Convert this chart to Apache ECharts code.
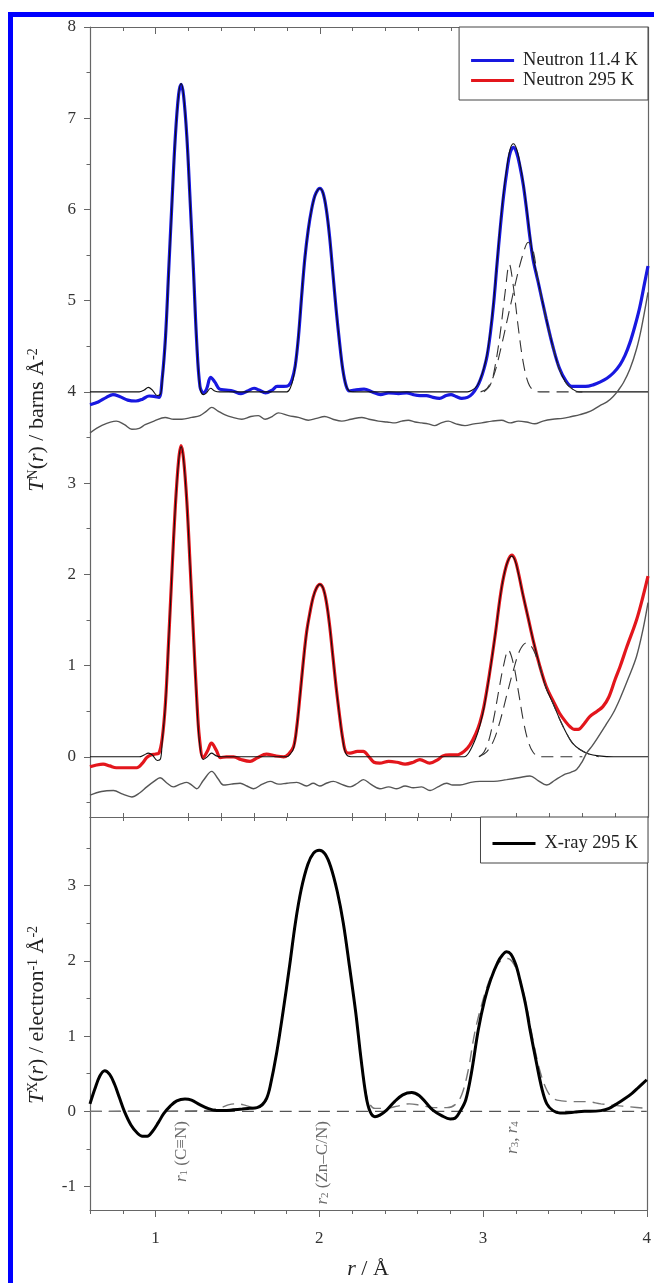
<!DOCTYPE html>
<html>
<head>
<meta charset="utf-8">
<script src="https://cdn.jsdelivr.net/npm/echarts@6/dist/echarts.min.js"></script>
<style>
  html, body { margin: 0; padding: 0; background: #fff; }
  #chart { width: 654px; height: 1283px; }
</style>
</head>
<body>
<div id="chart"></div>
<script>
// r / Å pairs
const neutronLow = [[0.60,3.86],[0.65,3.89],[0.70,3.94],[0.74,3.97],[0.78,3.95],[0.83,3.91],[0.88,3.90],[0.92,3.92],[0.96,3.955],[0.99,3.95],[1.02,3.94],[1.04,4.15],[1.06,4.60],[1.08,5.35],[1.10,6.10],[1.12,6.80],[1.14,7.26],[1.155,7.37],[1.17,7.25],[1.19,6.80],[1.21,6.10],[1.23,5.35],[1.25,4.55],[1.27,4.06],[1.29,3.99],[1.31,4.03],[1.335,4.16],[1.36,4.11],[1.39,4.03],[1.43,4.02],[1.47,4.01],[1.52,3.98],[1.56,4.01],[1.60,4.04],[1.63,4.02],[1.67,3.99],[1.71,4.02],[1.74,4.06],[1.78,4.06],[1.81,4.07],[1.83,4.13],[1.85,4.28],[1.87,4.60],[1.89,5.06],[1.91,5.48],[1.93,5.78],[1.95,6.00],[1.97,6.15],[1.99,6.22],[2.00,6.23],[2.02,6.18],[2.04,6.00],[2.06,5.70],[2.08,5.30],[2.10,4.90],[2.12,4.55],[2.14,4.25],[2.16,4.07],[2.18,4.01],[2.21,4.02],[2.27,4.03],[2.32,4.00],[2.37,3.97],[2.42,3.99],[2.48,3.98],[2.53,3.99],[2.57,3.97],[2.61,3.96],[2.65,3.96],[2.69,3.94],[2.73,3.93],[2.77,3.96],[2.80,3.97],[2.83,3.95],[2.865,3.93],[2.90,3.94],[2.93,3.98],[2.96,4.06],[2.98,4.14],[3.00,4.25],[3.02,4.40],[3.04,4.65],[3.06,4.98],[3.08,5.40],[3.10,5.80],[3.12,6.15],[3.14,6.42],[3.16,6.62],[3.18,6.68],[3.20,6.62],[3.22,6.47],[3.24,6.27],[3.26,6.00],[3.28,5.70],[3.30,5.45],[3.33,5.21],[3.38,4.80],[3.42,4.50],[3.46,4.26],[3.50,4.12],[3.535,4.06],[3.58,4.06],[3.62,4.06],[3.67,4.08],[3.71,4.11],[3.75,4.15],[3.79,4.21],[3.83,4.30],[3.86,4.40],[3.89,4.54],[3.92,4.72],[3.95,4.93],[3.98,5.20],[4.00,5.38]];
const fitLow = [[0.60,4.00],[0.90,4.00],[0.93,4.02],[0.955,4.05],[0.98,4.02],[1.01,3.96],[1.03,3.98],[1.04,4.12],[1.06,4.58],[1.08,5.33],[1.10,6.08],[1.12,6.79],[1.14,7.26],[1.155,7.38],[1.17,7.26],[1.19,6.79],[1.21,6.08],[1.23,5.33],[1.25,4.55],[1.27,4.05],[1.29,3.97],[1.31,3.99],[1.335,4.04],[1.36,4.01],[1.39,4.00],[1.80,4.00],[1.82,4.04],[1.84,4.16],[1.86,4.43],[1.88,4.83],[1.90,5.29],[1.92,5.64],[1.94,5.90],[1.96,6.08],[1.98,6.19],[2.00,6.23],[2.02,6.18],[2.04,6.00],[2.06,5.70],[2.08,5.30],[2.10,4.90],[2.12,4.55],[2.14,4.25],[2.16,4.07],[2.18,4.01],[2.20,4.00],[2.90,4.00],[2.93,4.02],[2.96,4.07],[2.98,4.15],[3.00,4.26],[3.02,4.42],[3.04,4.67],[3.06,5.00],[3.08,5.42],[3.10,5.83],[3.12,6.18],[3.14,6.46],[3.16,6.66],[3.18,6.72],[3.20,6.66],[3.22,6.50],[3.24,6.29],[3.26,6.02],[3.28,5.72],[3.30,5.47],[3.33,5.22],[3.38,4.80],[3.42,4.50],[3.46,4.25],[3.50,4.10],[3.54,4.03],[3.58,4.00],[4.00,4.00]];
const narrowLow = [[3.00,4.00],[3.04,4.08],[3.07,4.30],[3.10,4.65],[3.13,5.10],[3.155,5.40],[3.18,5.15],[3.21,4.70],[3.24,4.32],[3.27,4.10],[3.30,4.02],[3.34,4.00],[3.60,4.00]];
const wideLow = [[2.98,4.00],[3.02,4.04],[3.06,4.18],[3.10,4.45],[3.15,4.85],[3.20,5.25],[3.24,5.52],[3.27,5.64],[3.30,5.55],[3.33,5.22],[3.38,4.80],[3.42,4.50],[3.46,4.25],[3.50,4.10],[3.54,4.03],[3.58,4.00]];
const diffLow = [[0.60,3.55],[0.67,3.63],[0.76,3.68],[0.81,3.64],[0.855,3.59],[0.90,3.60],[0.936,3.64],[0.99,3.68],[1.058,3.72],[1.11,3.70],[1.16,3.70],[1.22,3.72],[1.27,3.74],[1.31,3.79],[1.342,3.83],[1.38,3.79],[1.42,3.75],[1.47,3.72],[1.525,3.70],[1.58,3.73],[1.626,3.74],[1.667,3.70],[1.71,3.73],[1.748,3.77],[1.81,3.74],[1.87,3.72],[1.93,3.69],[1.98,3.71],[2.03,3.73],[2.08,3.70],[2.134,3.68],[2.19,3.70],[2.256,3.72],[2.30,3.70],[2.357,3.68],[2.41,3.67],[2.459,3.66],[2.50,3.68],[2.54,3.69],[2.58,3.67],[2.62,3.66],[2.66,3.65],[2.70,3.63],[2.74,3.66],[2.783,3.68],[2.83,3.65],[2.885,3.63],[2.94,3.65],[2.987,3.66],[3.05,3.68],[3.108,3.69],[3.16,3.66],[3.21,3.68],[3.26,3.67],[3.31,3.65],[3.36,3.68],[3.42,3.70],[3.48,3.71],[3.535,3.73],[3.585,3.75],[3.65,3.79],[3.707,3.85],[3.75,3.89],[3.788,3.95],[3.82,4.02],[3.85,4.10],[3.89,4.25],[3.93,4.47],[3.96,4.70],[4.00,5.09]];

const neutronRoom = [[0.60,-0.11],[0.64,-0.09],[0.68,-0.08],[0.72,-0.10],[0.76,-0.12],[0.82,-0.12],[0.885,-0.12],[0.92,-0.07],[0.945,-0.01],[0.97,0.02],[1.00,0.03],[1.02,0.04],[1.04,0.20],[1.06,0.60],[1.08,1.30],[1.10,2.05],[1.12,2.75],[1.14,3.25],[1.155,3.41],[1.17,3.27],[1.19,2.80],[1.21,2.10],[1.23,1.35],[1.25,0.65],[1.267,0.20],[1.29,-0.01],[1.315,0.06],[1.34,0.15],[1.37,0.07],[1.395,-0.01],[1.43,0.00],[1.475,0.00],[1.52,-0.03],[1.575,-0.05],[1.62,-0.01],[1.675,0.03],[1.73,0.01],[1.78,0.00],[1.81,0.03],[1.84,0.11],[1.86,0.33],[1.88,0.68],[1.90,1.05],[1.92,1.37],[1.94,1.58],[1.96,1.75],[1.98,1.85],[2.00,1.89],[2.02,1.85],[2.04,1.70],[2.06,1.44],[2.08,1.10],[2.10,0.76],[2.12,0.46],[2.14,0.20],[2.16,0.05],[2.185,0.04],[2.23,0.06],[2.265,0.06],[2.30,0.00],[2.33,-0.06],[2.365,-0.07],[2.42,-0.05],[2.47,-0.06],[2.52,-0.08],[2.57,-0.06],[2.61,-0.03],[2.67,-0.07],[2.72,-0.03],[2.75,0.01],[2.79,0.02],[2.835,0.02],[2.88,0.06],[2.915,0.13],[2.95,0.25],[2.975,0.37],[3.00,0.55],[3.035,0.92],[3.07,1.35],[3.10,1.76],[3.12,1.97],[3.145,2.14],[3.17,2.21],[3.19,2.16],[3.21,2.02],[3.24,1.76],[3.27,1.52],[3.30,1.28],[3.34,1.00],[3.38,0.77],[3.42,0.62],[3.46,0.48],[3.50,0.38],[3.525,0.33],[3.55,0.30],[3.575,0.30],[3.61,0.36],[3.645,0.44],[3.69,0.50],[3.725,0.55],[3.76,0.65],[3.80,0.85],[3.83,0.99],[3.87,1.20],[3.93,1.50],[3.97,1.76],[4.00,1.98]];
const fitRoom = [[0.60,0.00],[0.90,0.00],[0.93,0.02],[0.955,0.04],[0.98,0.02],[1.01,-0.04],[1.03,-0.02],[1.04,0.17],[1.06,0.58],[1.08,1.29],[1.10,2.04],[1.12,2.74],[1.14,3.24],[1.155,3.40],[1.17,3.26],[1.19,2.79],[1.21,2.09],[1.23,1.34],[1.25,0.62],[1.267,0.16],[1.29,-0.03],[1.315,0.00],[1.34,0.04],[1.37,0.01],[1.40,0.00],[1.80,0.00],[1.82,0.03],[1.84,0.09],[1.86,0.32],[1.88,0.67],[1.90,1.04],[1.92,1.36],[1.94,1.58],[1.96,1.75],[1.98,1.85],[2.00,1.89],[2.02,1.85],[2.04,1.70],[2.06,1.44],[2.08,1.10],[2.10,0.76],[2.12,0.46],[2.14,0.19],[2.16,0.03],[2.19,0.00],[2.88,0.00],[2.91,0.05],[2.95,0.20],[2.975,0.34],[3.00,0.53],[3.035,0.91],[3.07,1.35],[3.10,1.76],[3.12,1.97],[3.145,2.14],[3.17,2.20],[3.19,2.15],[3.21,2.01],[3.24,1.76],[3.27,1.52],[3.30,1.28],[3.34,1.00],[3.38,0.75],[3.42,0.59],[3.46,0.42],[3.50,0.27],[3.54,0.15],[3.585,0.08],[3.64,0.03],[3.70,0.01],[3.79,0.00],[4.00,0.00]];
const narrowRoom = [[2.97,0.00],[3.00,0.05],[3.03,0.18],[3.06,0.42],[3.09,0.72],[3.12,1.00],[3.149,1.17],[3.18,1.02],[3.21,0.72],[3.24,0.40],[3.27,0.17],[3.30,0.05],[3.34,0.00],[3.60,0.00]];
const wideRoom = [[2.97,0.00],[3.02,0.06],[3.06,0.18],[3.10,0.40],[3.14,0.68],[3.18,0.95],[3.22,1.17],[3.26,1.25],[3.30,1.18],[3.34,0.98],[3.38,0.75],[3.42,0.59],[3.46,0.42],[3.50,0.27],[3.54,0.15],[3.585,0.08],[3.64,0.03],[3.70,0.00]];
const diffRoom = [[0.60,-0.42],[0.67,-0.38],[0.743,-0.37],[0.80,-0.41],[0.855,-0.44],[0.90,-0.40],[0.946,-0.33],[0.99,-0.27],[1.027,-0.23],[1.07,-0.29],[1.108,-0.33],[1.15,-0.30],[1.19,-0.28],[1.22,-0.31],[1.25,-0.35],[1.29,-0.26],[1.342,-0.16],[1.38,-0.24],[1.413,-0.31],[1.46,-0.30],[1.515,-0.29],[1.556,-0.32],[1.596,-0.35],[1.65,-0.30],[1.698,-0.27],[1.75,-0.30],[1.80,-0.29],[1.86,-0.28],[1.92,-0.32],[1.96,-0.29],[2.00,-0.32],[2.04,-0.29],[2.083,-0.27],[2.13,-0.30],[2.185,-0.33],[2.23,-0.29],[2.266,-0.25],[2.31,-0.30],[2.367,-0.35],[2.42,-0.33],[2.469,-0.35],[2.52,-0.32],[2.57,-0.34],[2.62,-0.33],[2.672,-0.37],[2.72,-0.33],[2.773,-0.29],[2.81,-0.31],[2.854,-0.31],[2.92,-0.28],[2.976,-0.27],[3.06,-0.27],[3.139,-0.25],[3.21,-0.23],[3.281,-0.21],[3.33,-0.26],[3.383,-0.31],[3.43,-0.26],[3.484,-0.20],[3.53,-0.17],[3.565,-0.14],[3.60,-0.05],[3.626,0.04],[3.66,0.12],[3.687,0.19],[3.74,0.34],[3.788,0.48],[3.83,0.64],[3.88,0.86],[3.93,1.10],[3.97,1.40],[4.00,1.69]];

const xray = [[0.60,0.10],[0.63,0.30],[0.66,0.47],[0.69,0.54],[0.72,0.49],[0.75,0.36],[0.78,0.18],[0.81,0.00],[0.85,-0.18],[0.89,-0.29],[0.92,-0.33],[0.95,-0.33],[0.98,-0.27],[1.017,-0.15],[1.05,-0.03],[1.09,0.07],[1.13,0.14],[1.18,0.165],[1.22,0.15],[1.27,0.09],[1.32,0.04],[1.373,0.01],[1.42,0.01],[1.474,0.02],[1.53,0.03],[1.576,0.04],[1.62,0.05],[1.652,0.09],[1.68,0.18],[1.70,0.33],[1.74,0.78],[1.778,1.31],[1.82,1.95],[1.854,2.50],[1.89,2.95],[1.93,3.28],[1.965,3.43],[2.00,3.47],[2.035,3.42],[2.07,3.25],[2.11,2.92],[2.147,2.50],[2.185,1.92],[2.223,1.31],[2.255,0.70],[2.286,0.20],[2.31,0.00],[2.34,-0.07],[2.37,-0.05],[2.413,0.02],[2.46,0.13],[2.51,0.22],[2.565,0.25],[2.61,0.21],[2.65,0.12],[2.692,0.02],[2.75,-0.06],[2.80,-0.10],[2.83,-0.09],[2.86,0.00],[2.895,0.155],[2.93,0.52],[2.971,1.08],[3.01,1.48],[3.047,1.75],[3.09,1.98],[3.12,2.08],[3.144,2.12],[3.17,2.09],[3.20,1.95],[3.225,1.75],[3.26,1.42],[3.29,1.05],[3.327,0.64],[3.36,0.30],[3.39,0.10],[3.428,0.01],[3.47,-0.02],[3.504,-0.02],[3.56,-0.01],[3.62,0.00],[3.656,0.00],[3.72,0.01],[3.77,0.04],[3.809,0.09],[3.86,0.16],[3.91,0.24],[3.95,0.32],[4.00,0.42]];
const fitXray = [[0.60,0.00],[1.30,0.01],[1.40,0.05],[1.45,0.09],[1.50,0.10],[1.55,0.08],[1.60,0.05],[1.64,0.06],[1.68,0.16],[1.70,0.32],[1.74,0.78],[1.778,1.31],[1.82,1.95],[1.854,2.50],[1.89,2.95],[1.93,3.28],[1.965,3.43],[2.00,3.47],[2.035,3.42],[2.07,3.25],[2.11,2.92],[2.147,2.50],[2.185,1.92],[2.223,1.31],[2.255,0.72],[2.286,0.24],[2.31,0.09],[2.34,0.04],[2.40,0.04],[2.48,0.07],[2.55,0.10],[2.62,0.08],[2.70,0.05],[2.78,0.05],[2.83,0.09],[2.87,0.22],[2.91,0.55],[2.95,1.05],[3.00,1.48],[3.05,1.80],[3.10,1.98],[3.15,2.03],[3.19,1.95],[3.23,1.72],[3.27,1.35],[3.31,0.90],[3.35,0.52],[3.39,0.28],[3.43,0.17],[3.48,0.14],[3.55,0.13],[3.63,0.13],[3.72,0.10],[3.80,0.08],[3.90,0.06],[4.00,0.04]];
const zeroXray = [[0.60,0],[4.00,0]];

const xTicks = [1, 2, 3, 4];
const xMinorTicks = [0.6, 0.8, 1.2, 1.4, 1.6, 1.8, 2.2, 2.4, 2.6, 2.8, 3.2, 3.4, 3.6, 3.8];
const yTicksTop = [0, 1, 2, 3, 4, 5, 6, 7, 8];
const yMinorTop = [-0.5, 0.5, 1.5, 2.5, 3.5, 4.5, 5.5, 6.5, 7.5];
const yTicksBottom = [-1, 0, 1, 2, 3];
const yMinorBottom = [-0.5, 0.5, 1.5, 2.5, 3.5];

// peak assignments at the foot of the X-ray panel
const peakLabels = [
  { r: 1.158, text: '{it|r}{sub|1} (C\u2261N)' },
  { r: 2.02, text: '{it|r}{sub|2} (Zn\u2013C/N)' },
  { r: 3.18, text: '{it|r}{sub|3}, {it|r}{sub|4}' }
];

const SERIF = "'Liberation Serif', 'Times New Roman', serif";
const AXIS = '#666';

var chart = echarts.init(document.getElementById('chart'));

function xAx(grid, pos, opts) {
  return Object.assign({
    type: 'value', gridIndex: grid, position: pos, min: 0.6, max: 4,
    axisLine: { show: true, onZero: false, lineStyle: { color: AXIS, width: 1.2 } },
    axisTick: { show: true, inside: true, length: 4, customValues: xMinorTicks, lineStyle: { color: AXIS } },
    axisLabel: { show: false },
    splitLine: { show: false }
  }, opts);
}
function yAx(grid, pos, min, max, opts) {
  return Object.assign({
    type: 'value', gridIndex: grid, position: pos, min: min, max: max,
    axisLine: { show: true, onZero: false, lineStyle: { color: AXIS, width: 1.2 } },
    axisTick: { show: false },
    axisLabel: { show: false },
    splitLine: { show: false }
  }, opts);
}
var hiddenLine = { show: false, onZero: false };

function line(name, data, xi, yi, color, width, dashed) {
  return {
    name: name, type: 'line', xAxisIndex: xi, yAxisIndex: yi, data: data,
    showSymbol: false, symbol: 'none', smooth: 0.35,
    itemStyle: { color: color },
    lineStyle: { color: color, width: width, type: dashed ? [12, 7] : 'solid' },
    emphasis: { disabled: true }
  };
}

var tickFont = { fontFamily: SERIF, fontSize: 17, color: '#333' };
var legendText = { fontFamily: SERIF, fontSize: 18.5, color: '#222', lineHeight: 16, padding: [0, 0, 0, 4] };
var titleRich = {
  it: { fontFamily: SERIF, fontSize: 22, fontStyle: 'italic', fill: '#222', verticalAlign: 'bottom' },
  n: { fontFamily: SERIF, fontSize: 22, fill: '#222', verticalAlign: 'bottom' },
  sup: { fontFamily: SERIF, fontSize: 14, fill: '#222', verticalAlign: 'top' }
};

var option = {
  animation: false,
  backgroundColor: '#fff',
  grid: [
    { left: 90, right: 6, top: 27, height: 790 },
    { left: 90, right: 6, top: 817, height: 393 }
  ],
  xAxis: [
    xAx(0, 'bottom'),
    xAx(0, 'top'),
    xAx(0, 'top', { axisLine: hiddenLine, axisTick: { show: true, inside: true, length: 7, customValues: xTicks, lineStyle: { color: AXIS } } }),
    xAx(1, 'bottom', {
      axisTick: { show: true, inside: false, length: 4, customValues: xMinorTicks, lineStyle: { color: AXIS } }
    }),
    xAx(1, 'bottom', {
      axisLine: hiddenLine,
      axisTick: { show: true, inside: false, length: 7, customValues: xTicks, lineStyle: { color: AXIS } },
      axisLabel: Object.assign({ show: true, customValues: xTicks, margin: 20 }, tickFont)
    }),
    xAx(1, 'top')
  ],
  yAxis: [
    yAx(0, 'left', -0.66, 8, {
      axisTick: { show: true, length: 6, customValues: yTicksTop, lineStyle: { color: AXIS } },
      axisLabel: Object.assign({ show: true, customValues: yTicksTop, margin: 14 }, tickFont)
    }),
    yAx(0, 'left', -0.66, 8, {
      axisLine: hiddenLine,
      axisTick: { show: true, length: 3.5, customValues: yMinorTop, lineStyle: { color: AXIS } }
    }),
    yAx(0, 'right', -0.66, 8),
    yAx(1, 'left', -1.31, 3.91, {
      axisTick: { show: true, length: 6, customValues: yTicksBottom, lineStyle: { color: AXIS } },
      axisLabel: Object.assign({ show: true, customValues: yTicksBottom, margin: 14 }, tickFont)
    }),
    yAx(1, 'left', -1.31, 3.91, {
      axisLine: hiddenLine,
      axisTick: { show: true, length: 3.5, customValues: yMinorBottom, lineStyle: { color: AXIS } }
    }),
    yAx(1, 'right', -1.31, 3.91)
  ],
  legend: [
    {
      data: ['Neutron 11.4 K', 'Neutron 295 K'],
      orient: 'vertical', right: 6, top: 27,
      padding: [24, 10, 10, 12], itemGap: 1,
      itemWidth: 43, itemHeight: 3, icon: 'rect',
      borderColor: '#444', borderWidth: 1, borderRadius: 0, backgroundColor: '#fff',
      textStyle: legendText,
      selectedMode: false
    },
    {
      data: ['X-ray 295 K'],
      orient: 'vertical', right: 6, top: 817,
      padding: [17, 10, 10, 12], itemGap: 0,
      itemWidth: 43, itemHeight: 3, icon: 'rect',
      borderColor: '#444', borderWidth: 1, borderRadius: 0, backgroundColor: '#fff',
      textStyle: legendText,
      selectedMode: false
    }
  ],
  graphic: [
    { type: 'rect', silent: true, z: 100,
      shape: { x: 10.5, y: 14.5, width: 700, height: 1320 },
      style: { fill: null, stroke: '#0000ff', lineWidth: 5 } },
    { type: 'text', silent: true, x: 37, y: 420, rotation: Math.PI / 2,
      style: {
        text: '{it|T}{sup|N}{n|(}{it|r}{n|) / barns \u00c5}{sup|-2}',
        align: 'center', verticalAlign: 'middle', rich: titleRich
      } },
    { type: 'text', silent: true, x: 37, y: 1015, rotation: Math.PI / 2,
      style: {
        text: '{it|T}{sup|X}{n|(}{it|r}{n|) / electron}{sup|-1}{n| \u00c5}{sup|-2}',
        align: 'center', verticalAlign: 'middle', rich: titleRich
      } },
    { type: 'text', silent: true, x: 368, y: 1269,
      style: {
        text: '{it|r}{n| / \u00c5}',
        align: 'center', verticalAlign: 'middle', rich: titleRich
      } }
  ],
  series: [
    line('Neutron 11.4 K', neutronLow, 0, 0, '#1818e0', 3.2, false),
    line('', fitLow, 0, 0, '#111', 1.1, false),
    line('', narrowLow, 0, 0, '#333', 1.1, true),
    line('', wideLow, 0, 0, '#333', 1.1, true),
    line('', diffLow, 0, 0, '#555', 1.4, false),
    line('Neutron 295 K', neutronRoom, 0, 0, '#e3161c', 3.2, false),
    line('', fitRoom, 0, 0, '#111', 1.1, false),
    line('', narrowRoom, 0, 0, '#333', 1.1, true),
    line('', wideRoom, 0, 0, '#333', 1.1, true),
    line('', diffRoom, 0, 0, '#555', 1.4, false),
    line('', zeroXray, 3, 3, '#555', 1.4, true),
    line('', fitXray, 3, 3, '#777', 1.4, true),
    line('X-ray 295 K', xray, 3, 3, '#000', 3, false),
    {
      type: 'scatter', xAxisIndex: 3, yAxisIndex: 3,
      symbolSize: 1, itemStyle: { color: 'transparent' }, silent: true,
      data: peakLabels.map(function (p) { return { value: [p.r, -0.13], name: p.text }; }),
      label: {
        show: true, position: 'inside', rotate: 90, align: 'right', verticalAlign: 'middle',
        formatter: function (p) { return p.name; },
        rich: {
          it: { fontFamily: SERIF, fontSize: 17, fontStyle: 'italic', color: '#444', verticalAlign: 'top' },
          sub: { fontFamily: SERIF, fontSize: 11, color: '#444', verticalAlign: 'bottom' }
        },
        fontFamily: SERIF, fontSize: 17, color: '#444'
      }
    }
  ]
};
chart.setOption(option);
</script>
</body>
</html>
